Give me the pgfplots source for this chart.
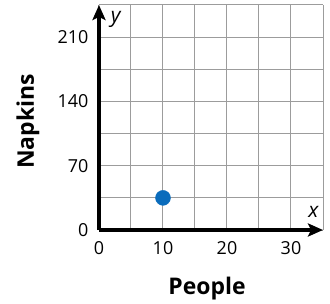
\documentclass[border=0pt]{standalone}
\usepackage{pgfplots}
\pgfplotsset{compat=1.18}
\usepackage{fontspec}
\setmainfont{Open Sans}
\usetikzlibrary{arrows.meta}
\definecolor{ptblue}{HTML}{0A6CBC}
\definecolor{gridgray}{HTML}{9C9C9C}
\begin{document}
\begin{tikzpicture}
\path[use as bounding box] (-99bp,-74bp) rectangle (231bp,230bp);
\begin{axis}[
  at={(0,0)}, anchor=south west,
  scale only axis,
  width=224bp, height=225bp,
  xmin=0, xmax=35, ymin=0, ymax=245,
  axis lines=left,
  axis line style={line width=3.2bp, -{Stealth[length=15bp,width=13bp,inset=3bp]}},
  xtick={0,10,20,30}, ytick={0,70,140,210},
  minor xtick={5,15,25,35}, minor ytick={35,105,175,245},
  grid=both,
  major grid style={gridgray, line width=1bp},
  minor grid style={gridgray, line width=1bp},
  tick style={draw=none},
  ticklabel style={font=\fontsize{18}{21}\selectfont},
  xticklabel style={yshift=-6bp},
  yticklabel style={xshift=-5bp},
  /pgf/number format/assume math mode=true,
  xlabel={\textbf{People}},
  ylabel={\textbf{Napkins}},
  label style={font=\fontsize{23}{26}\selectfont},
  xlabel style={at={(axis description cs:0.482,-0.258)}, anchor=center},
  ylabel style={at={(axis description cs:-0.317,0.482)}, anchor=center, rotate=0},
  clip=false,
]
\addplot[only marks, mark=*, mark size=7.5bp, mark options={fill=ptblue, draw=ptblue}] coordinates {(10,35)};
\node[font=\itshape\fontsize{21}{24}\selectfont] at (axis cs:2.6,229) {y};
\node[font=\itshape\fontsize{21}{24}\selectfont] at (axis cs:33.5,20) {x};
\end{axis}
\end{tikzpicture}
\end{document}
